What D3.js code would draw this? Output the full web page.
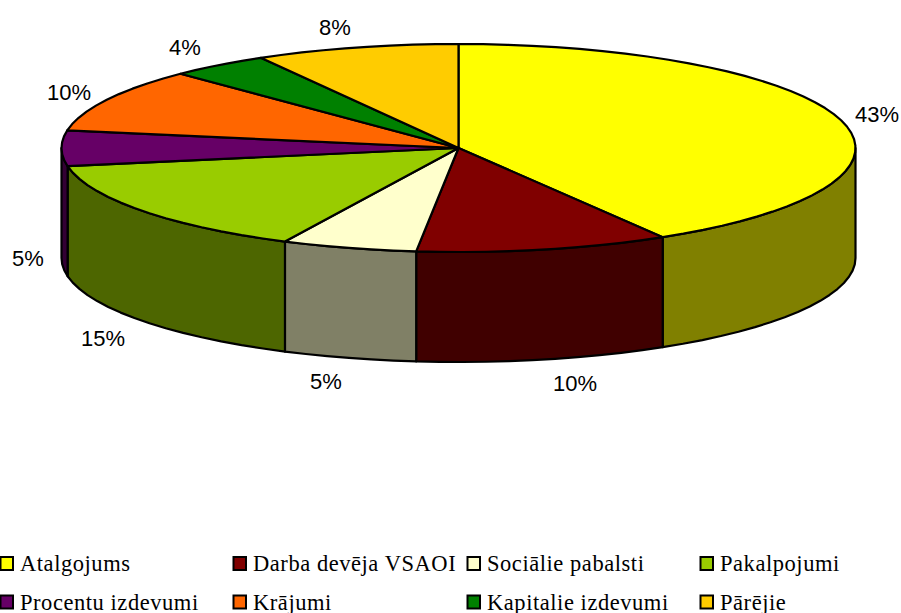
<!DOCTYPE html>
<html>
<head>
<meta charset="utf-8">
<script src="https://cdn.jsdelivr.net/npm/d3@7/dist/d3.min.js"></script>
<style>
html,body{margin:0;padding:0;background:#fff;overflow:hidden}
svg{display:block}
</style>
</head>
<body>
<script>
// Data
const categories = ["Atalgojums","Darba devēja VSAOI","Sociālie pabalsti","Pakalpojumi","Procentu izdevumi","Krājumi","Kapitalie izdevumi","Pārējie"];
const percentLabels = [43,10,5,15,5,10,4,8];
// Apparent slice shares as drawn (the tilted projection compresses them a little)
const drawnShares = [41.4,10.3,5.5,15,5.5,9.95,4.05,8.3];
const topColors = ["#ffff00","#800000","#ffffcc","#99cc00","#660066","#ff6600","#008000","#ffcc00"];
const wallColors = ["#808000","#400000","#808066","#4d6600","#330033","#803300","#004000","#806600"];
// Layout
const labelCenters = [[877,114],[575,383],[326,381],[103,338],[28,258],[69,92],[185,47],[335,27]];
const legendCols = [0,233,467,700];
const legendRows = [557,595.5];
const W=901,H=613,cx=458.5,cy=148,rx=397,ry=104,depth=110;

const svg=d3.select("body").append("svg").attr("width",W).attr("height",H);
const ellX=d3.scaleLinear().domain([-1,1]).range([cx-rx,cx+rx]);
const ellY=d3.scaleLinear().domain([-1,1]).range([cy-ry,cy+ry]);
const pie=d3.pie().sort(null).value(d=>d);
const arcs=pie(drawnShares);
const line=d3.line().x(d=>d[0]).y(d=>d[1]);
const step=Math.PI/50;
function rim(a0,a1,dy){
  const n=Math.max(1,Math.ceil((a1-a0)/step));
  return d3.range(n+1).map(i=>{const a=a0+(a1-a0)*i/n;return [ellX(Math.sin(a)),ellY(-Math.cos(a))+dy];});
}
const stroke="#000",sw=2.2;
// Walls: only the front half of the rim is visible
const wallData=arcs.map((d,i)=>({i,a0:Math.max(d.startAngle,Math.PI/2),a1:Math.min(d.endAngle,3*Math.PI/2)})).filter(d=>d.a1>d.a0);
svg.append("g").selectAll("path").data(wallData).join("path")
  .attr("d",d=>{
    const top=rim(d.a0,d.a1,0),bot=rim(d.a0,d.a1,depth).reverse();
    return line(top.concat(bot))+"Z";
  })
  .attr("fill",d=>wallColors[d.i]).attr("stroke",stroke).attr("stroke-width",sw).attr("stroke-linejoin","round");
// Top face
svg.append("g").selectAll("path").data(arcs).join("path")
  .attr("d",d=>line([[cx,cy]].concat(rim(d.startAngle,d.endAngle,0)))+"Z")
  .attr("fill",(d,i)=>topColors[i]).attr("stroke",stroke).attr("stroke-width",sw).attr("stroke-linejoin","round");
// Percent labels
svg.append("g").selectAll("text").data(percentLabels).join("text")
  .attr("x",(d,i)=>labelCenters[i][0]).attr("y",(d,i)=>labelCenters[i][1]+8)
  .attr("text-anchor","middle").attr("font-family","'Liberation Sans',Arial,sans-serif")
  .attr("font-size",22).attr("fill","#000").text(d=>d+"%");
// Legend
const leg=svg.append("g").selectAll("g").data(categories).join("g")
  .attr("transform",(d,i)=>`translate(${legendCols[i%4]},${legendRows[Math.floor(i/4)]})`);
leg.append("rect").attr("x",0.5).attr("y",0).attr("width",12.5).attr("height",13)
  .attr("fill",(d,i)=>topColors[i]).attr("stroke","#000").attr("stroke-width",2);
leg.append("text").attr("x",20).attr("y",14).attr("font-family","'Liberation Serif','Times New Roman',serif")
  .attr("font-size",22.5).attr("letter-spacing",0.55).attr("fill","#000").text(d=>d);
</script>
</body>
</html>
